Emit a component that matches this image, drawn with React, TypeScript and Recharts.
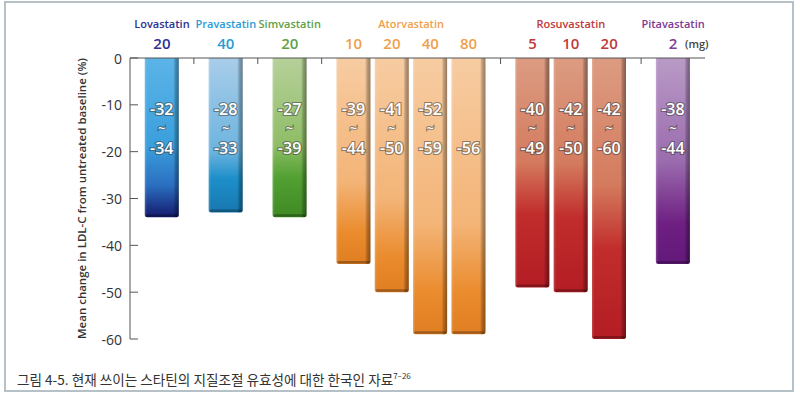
import { Bar, BarChart, ReferenceLine, XAxis, YAxis } from "recharts";

const drugs = ["Lovastatin", "Pravastatin", "Simvastatin", "Atorvastatin", "Rosuvastatin", "Pitavastatin"];
const doses = [[20], [40], [20], [10, 20, 40, 80], [5, 10, 20], [2]];
const meanChange = [-34, -33, -34, -44, -50, -59, -59, -49, -50, -60, -44];
const rangeFrom = ["-32", "-28", "-27", "-39", "-41", "-52", "", "-40", "-42", "-42", "-38"];
const rangeTo = ["-34", "-33", "-39", "-44", "-50", "-59", "-56", "-49", "-50", "-60", "-44"];
const yTicks = [0, -10, -20, -30, -40, -50, -60];
const yLabel = "Mean change in LDL-C from untreated baseline (%)";
const caption = "그림 4-5. 현재 쓰이는 스타틴의 지질조절 유효성에 대한 한국인 자료";
const captionRef = "7–26";

const textColors = ["#2e3192", "#2b9bd6", "#5fa14a", "#f0a04b", "#c0393b", "#7e3b96"];
const barStops = [
  [["0", "#5cb4e8"], ["0.55", "#3a9fdc"], ["0.8", "#2a6fc0"], ["1", "#141a6e"]],
  [["0", "#a9cde9"], ["0.6", "#6db4df"], ["0.78", "#1d8fca"], ["1", "#1877ae"]],
  [["0", "#b6d09a"], ["0.55", "#8fbd66"], ["0.75", "#52a032"], ["1", "#3f8a24"]],
  [["0", "#f7cca2"], ["0.6", "#f3b477"], ["0.85", "#ea8b2d"], ["1", "#df7e22"]],
  [["0", "#dc9c82"], ["0.45", "#d47b5e"], ["0.68", "#c12d2c"], ["1", "#b31d24"]],
  [["0", "#b99ac6"], ["0.5", "#9a6cae"], ["0.8", "#6f2082"], ["1", "#62187a"]],
];

const FONT = "'Open Sans', 'Noto Sans', sans-serif";

// one row per bar; groups are spaced wider than the bars inside a group
type Row = { pos: number; group: number; dose: number; value: number; from: string; to: string };
const rows: Row[] = [];
{
  let pos = 0;
  let k = 0;
  doses.forEach((list, g) => {
    list.forEach((d, j) => {
      rows.push({ pos, group: g, dose: d, value: meanChange[k], from: rangeFrom[k], to: rangeTo[k] });
      k++;
      pos += j === list.length - 1 ? 5 : 3;
    });
  });
}
const groupCenters = drugs.map((_, g) => {
  const ps = rows.filter((r) => r.group === g).map((r) => r.pos);
  return (ps[0] + ps[ps.length - 1]) / 2;
});
const separators = drugs.slice(1).map((_, g) => {
  const ps = rows.filter((r) => r.group === g).map((r) => r.pos);
  return ps[ps.length - 1] + 2.5;
});

function StatinBar(props: any) {
  const { x, y, width, height, payload, index } = props;
  const top = Math.min(y, y + height);
  const h = Math.abs(height);
  const r = 2.5;
  const g = payload.group;
  const id = `bar-${index}`;
  const d = `M${x},${top} H${x + width} V${top + h - r} Q${x + width},${top + h} ${x + width - r},${top + h} H${x + r} Q${x},${top + h} ${x},${top + h - r} Z`;
  const cx = x + width / 2;
  const txt = {
    fill: "#fff",
    stroke: "rgba(60,60,60,0.55)",
    strokeWidth: 2.2,
    paintOrder: "stroke" as const,
    fontFamily: FONT,
    fontWeight: 600,
    textAnchor: "middle" as const,
    dominantBaseline: "central" as const,
  };
  return (
    <g>
      <defs>
        <linearGradient id={`${id}-v`} x1="0" y1="0" x2="0" y2="1">
          {barStops[g].map(([o, c]) => (
            <stop key={o} offset={o} stopColor={c} />
          ))}
        </linearGradient>
        <linearGradient id={`${id}-h`} x1="0" y1="0" x2="1" y2="0">
          <stop offset="0" stopColor="#fff" stopOpacity={0.18} />
          <stop offset="0.07" stopColor="#fff" stopOpacity={0} />
          <stop offset="0.84" stopColor="#000" stopOpacity={0} />
          <stop offset="0.9" stopColor="#000" stopOpacity={0.22} />
          <stop offset="1" stopColor="#000" stopOpacity={0.4} />
        </linearGradient>
      </defs>
      <path d={d} fill={`url(#${id}-v)`} />
      <path d={d} fill={`url(#${id}-h)`} />
      <rect x={x + 1} y={top + h - 3} width={width - 2} height={2.5} fill="#000" opacity={0.28} rx={1} />
      {payload.from && (
        <>
          <text x={cx} y={top + 51} fontSize={16} {...txt}>{payload.from}</text>
          <text x={cx} y={top + 70} fontSize={13} {...txt}>~</text>
        </>
      )}
      <text x={cx} y={top + 90} fontSize={16} {...txt}>{payload.to}</text>
    </g>
  );
}

function DoseTick(props: any) {
  const { x, y, payload } = props;
  const row = rows.find((r) => r.pos === payload.value);
  if (!row) return <g />;
  const last = row.group === drugs.length - 1;
  return (
    <g>
      <text x={x} y={y - 1} textAnchor="middle" fontSize={15} fontWeight={600} fontFamily={FONT} fill={textColors[row.group]}>
        {row.dose}
      </text>
      {last && (
        <text x={x + 12} y={y - 2} fontSize={11} fontWeight={600} fontFamily={FONT} fill="#444">
          (mg)
        </text>
      )}
    </g>
  );
}

function ValueTick(props: any) {
  const { x, y, payload } = props;
  return (
    <g>
      <line x1={x + 8} x2={x + 16} y1={y} y2={y} stroke="#555" />
      <text x={x} y={y} textAnchor="end" dominantBaseline="central" fontSize={14} fontFamily={FONT} fill="#333">
        {payload.value}
      </text>
    </g>
  );
}

export default function App() {
  return (
    <div style={{ position: "absolute", left: 0, top: 0, width: 800, height: 396, background: "#fff" }}>
      <div
        style={{
          position: "absolute",
          left: 4,
          top: 1,
          width: 786,
          height: 387,
          border: "2px solid #b5c0c7",
        }}
      />
      <BarChart
        width={800}
        height={396}
        data={rows}
        margin={{ top: 0, right: 95, bottom: 57, left: 0 }}
        style={{ position: "absolute", left: 0, top: 0 }}
      >
        <XAxis
          dataKey="pos"
          type="number"
          orientation="top"
          height={58}
          domain={[-2.5, 42.5]}
          ticks={rows.map((r) => r.pos)}
          interval={0}
          tickLine={false}
          axisLine={{ stroke: "#555" }}
          tick={<DoseTick />}
        />
        <YAxis
          type="number"
          domain={[-60, 0]}
          ticks={yTicks}
          interval={0}
          width={130}
          tickLine={false}
          axisLine={{ stroke: "#555" }}
          tick={<ValueTick />}
          label={{
            value: yLabel,
            angle: -90,
            position: "insideLeft",
            offset: 82,
            style: { textAnchor: "middle", fontSize: 11.5, fontWeight: 600, fontFamily: FONT, fill: "#333" },
          }}
        />
        {separators.map((s) => (
          <ReferenceLine
            key={s}
            segment={[
              { x: s, y: 0 },
              { x: s, y: -1.3 },
            ]}
            stroke="#555"
          />
        ))}
        {drugs.map((name, g) => (
          <ReferenceLine
            key={name}
            x={groupCenters[g]}
            stroke="none"
            label={{
              value: name,
              position: "top",
              offset: 30,
              fill: textColors[g],
              fontSize: 11,
              fontWeight: 600,
              fontFamily: FONT,
            }}
          />
        ))}
        <Bar dataKey="value" barSize={34} shape={<StatinBar />} isAnimationActive={false} />
      </BarChart>
      <div
        style={{
          position: "absolute",
          left: 17,
          top: 367,
          fontFamily: "'Noto Sans CJK KR', sans-serif",
          fontSize: 13.6,
          color: "#333",
          whiteSpace: "nowrap",
          lineHeight: "18px",
        }}
      >
        {caption}
        <sup style={{ fontSize: 8, verticalAlign: "6px" }}>{captionRef}</sup>
      </div>
    </div>
  );
}
